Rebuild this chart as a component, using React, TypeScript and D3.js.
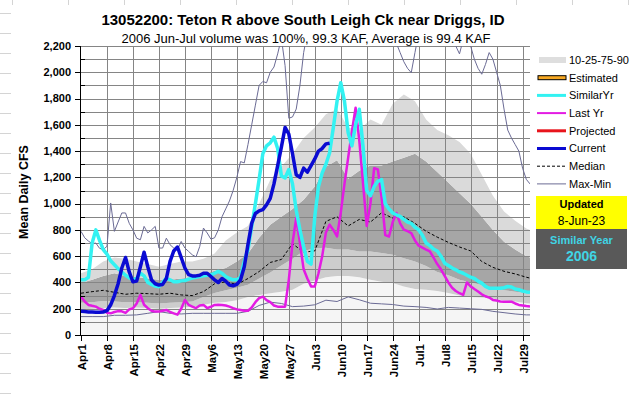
import React, { useEffect, useRef } from 'react';
import * as d3 from 'd3';

const title = '13052200: Teton R above South Leigh Ck near Driggs, ID';
const subtitle = '2006 Jun-Jul volume was 100%, 99.3 KAF, Average is 99.4 KAF';

// one label per week, starting Apr 1 (day 0)
const tickLabels = ['Apr1', 'Apr8', 'Apr15', 'Apr22', 'Apr29', 'May6', 'May13', 'May20', 'May27',
  'Jun3', 'Jun10', 'Jun17', 'Jun24', 'Jul1', 'Jul8', 'Jul15', 'Jul22', 'Jul29'];
const yTicks = [0, 200, 400, 600, 800, 1000, 1200, 1400, 1600, 1800, 2000, 2200];

// daily flows, index = days since Apr 1
const current = [180, 178, 176, 175, 174, 173, 175, 185, 230, 300, 390, 510, 590, 480, 405, 410, 520, 630, 520, 420,
  390, 380, 385, 430, 560, 640, 670, 590, 510, 460, 450, 450, 455, 470, 470, 445, 420, 400, 430, 410,
  380, 375, 385, 420, 520, 690, 850, 925, 945, 955, 990, 1040, 1150, 1290, 1430, 1580, 1530, 1380, 1220, 1200,
  1270, 1240, 1290, 1340, 1400, 1420, 1455, 1460];

const similarYr = [420, 420, 440, 700, 800, 720, 650, 615, 565, 535, 505, 480, 455, 435, 420, 430, 470, 450, 400, 385,
  372, 368, 400, 432, 420, 405, 405, 412, 415, 425, 433, 440, 445, 450, 455, 458, 470, 484, 470, 445,
  430, 420, 420, 440, 560, 650, 827, 1000, 1183, 1380, 1440, 1463, 1506, 1420, 1210, 1196, 1260, 1150, 950, 800,
  670, 560, 540, 900, 1130, 1234, 1300, 1387, 1580, 1780, 1921, 1780, 1540, 1440, 1600, 1718, 1437, 1100, 1060, 1130,
  1170, 1183, 1000, 960, 929, 915, 903, 880, 860, 850, 820, 800, 760, 700, 680, 655, 640, 600, 547, 530,
  510, 496, 480, 470, 455, 440, 430, 410, 395, 370, 356, 356, 356, 356, 360, 369, 365, 350, 345, 335,
  328, 325];

const lastYr = [292, 255, 229, 222, 216, 200, 190, 170, 165, 175, 182, 180, 168, 195, 204, 240, 305, 230, 204, 185,
  178, 178, 185, 191, 175, 165, 155, 200, 267, 230, 216, 205, 225, 229, 205, 215, 229, 230, 229, 225,
  216, 205, 195, 190, 185, 185, 210, 250, 280, 292, 265, 250, 225, 216, 216, 216, 420, 700, 890, 700,
  500, 430, 370, 370, 470, 600, 780, 840, 800, 750, 930, 1150, 1350, 1550, 1730, 1480, 1158, 830, 1000, 1270,
  1260, 1050, 760, 750, 860, 929, 850, 802, 790, 776, 720, 680, 665, 650, 636, 590, 540, 500, 450, 400,
  360, 335, 318, 305, 400, 370, 350, 331, 310, 295, 285, 267, 262, 255, 254, 254, 254, 240, 229, 225,
  220, 216];

const maxFlow = [789, 740, 715, 695, 700, 660, 650, 675, 1005, 789, 860, 929, 929, 850, 800, 737, 725, 827, 777, 800,
  827, 662, 662, 737, 687, 662, 649, 712, 662, 636, 610, 595, 674, 814, 777, 730, 740, 800, 900, 960,
  1020, 1100, 1200, 1320, 1310, 1450, 1600, 1750, 1900, 1930, 1920, 2000, 2040, 2140, 2260, 2050, 1650, 1660, 1720, 1900,
  2150, 2300, 2350, 2450, 2600, 2750, 2900, 3000, 2950, 2800, 2700, 2650, 2600, 2500, 2450, 2400, 2500, 2600, 2550, 2450,
  2400, 2350, 2300, 2280, 2250, 2220, 2150, 2080, 2030, 1997, 2150, 2300, 2400, 2500, 2450, 2400, 2350, 2380, 2320, 2280,
  2300, 2200, 2140, 2250, 2300, 2200, 2100, 2030, 1985, 2060, 2150, 2100, 2000, 1900, 1720, 1560, 1500, 1450, 1400, 1270,
  1185, 1150];

// percentile / median / min series, sampled every third day
const bandDays = [0, 3, 6, 9, 12, 15, 18, 21, 24, 27, 30, 33, 36, 39, 42, 45, 48, 51, 54, 57,
  60, 63, 66, 69, 72, 75, 78, 81, 84, 87, 90, 93, 96, 99, 102, 105, 108, 111, 114, 117, 120, 121];
const p90 = [470, 500, 560, 590, 580, 560, 540, 520, 540, 560, 560, 580, 620, 720, 780, 830, 1000, 1180, 1280, 1380,
  1500, 1580, 1680, 1720, 1580, 1560, 1640, 1600, 1760, 1830, 1780, 1640, 1560, 1520, 1470, 1380, 1220, 1060, 940, 870, 810, 800];
const p75 = [395, 420, 450, 470, 450, 440, 430, 420, 420, 430, 440, 460, 490, 510, 560, 620, 740, 840, 900, 960,
  1030, 1130, 1280, 1330, 1190, 1250, 1290, 1290, 1320, 1350, 1380, 1320, 1240, 1160, 1080, 1000, 900, 800, 710, 650, 600, 590];
const p25 = [245, 250, 258, 255, 250, 250, 245, 240, 245, 250, 255, 290, 320, 340, 360, 382, 430, 475, 530, 580,
  640, 660, 665, 650, 650, 636, 635, 625, 610, 585, 560, 525, 480, 455, 420, 400, 380, 360, 340, 330, 320, 318];
const p10 = [195, 200, 205, 210, 205, 210, 205, 200, 205, 210, 215, 230, 245, 252, 265, 290, 305, 318, 330, 345,
  390, 415, 440, 450, 450, 440, 420, 405, 395, 370, 350, 345, 335, 320, 300, 290, 285, 278, 262, 255, 242, 240];
const median = [318, 330, 340, 325, 310, 318, 315, 310, 318, 305, 300, 330, 390, 405, 385, 430, 483, 552, 575, 695,
  630, 640, 865, 900, 830, 880, 860, 930, 890, 900, 850, 790, 745, 705, 670, 640, 560, 515, 485, 465, 440, 433];
const minFlow = [140, 140, 140, 150, 150, 153, 165, 178, 165, 160, 165, 165, 165, 165, 165, 180, 225, 250, 240, 216,
  220, 230, 265, 255, 290, 268, 242, 237, 232, 220, 216, 210, 198, 210, 205, 200, 195, 180, 170, 160, 153, 153];

const legendItems = ['10-25-75-90', 'Estimated', 'SimilarYr', 'Last Yr', 'Projected', 'Current', 'Median', 'Max-Min'];

const FONT = '"Liberation Sans", Arial, sans-serif';

const App: React.FC = () => {
  const svgRef = useRef<SVGSVGElement | null>(null);

  useEffect(() => {
    if (!svgRef.current) return;
    const svg = d3.select(svgRef.current);
    svg.selectAll('*').remove();

    const left = 81, right = 530, top = 46, bottom = 335;
    const x = d3.scaleLinear().domain([0, 121]).range([left, right]);
    const y = d3.scaleLinear().domain([0, 2200]).range([bottom, top]);

    svg.append('rect').attr('width', 633).attr('height', 394).attr('fill', '#fff');

    // spreadsheet cells peeking out around the chart object
    d3.range(13, 394, 20).forEach((yy) => {
      svg.append('line').attr('x1', 0).attr('x2', 11).attr('y1', yy + 0.5).attr('y2', yy + 0.5)
        .attr('stroke', '#d4d4d4');
    });
    d3.range(12, 633, 56).forEach((xx) => {
      svg.append('line').attr('x1', xx + 0.5).attr('x2', xx + 0.5).attr('y1', 0).attr('y2', 5)
        .attr('stroke', '#d4d4d4');
    });

    svg.append('defs').append('clipPath').attr('id', 'plotClip')
      .append('rect').attr('x', left).attr('y', top).attr('width', right - left).attr('height', bottom - top);

    const plot = svg.append('g').attr('clip-path', 'url(#plotClip)');

    // percentile bands
    const band = (lo: number[] | null, hi: number[], fill: string) => {
      const a = d3.area<number>()
        .x((d) => x(d))
        .y0((_, i) => (lo ? y(lo[i]) : y(0)))
        .y1((_, i) => y(hi[i]));
      plot.append('path').datum(bandDays).attr('d', a).attr('fill', fill);
    };
    band(null, p10, '#f5f5f5');
    band(p10, p25, '#cdcdcd');
    band(p25, p75, '#a6a6a6');
    band(p75, p90, '#dadada');

    // grid
    d3.range(100, 2201, 100).forEach((v) => {
      plot.append('line').attr('x1', left).attr('x2', right)
        .attr('y1', Math.round(y(v)) + 0.5).attr('y2', Math.round(y(v)) + 0.5)
        .attr('stroke', '#858585').attr('stroke-width', 1);
    });
    tickLabels.forEach((_, i) => {
      if (i === 0) return;
      const xx = Math.round(x(i * 7)) + 0.5;
      plot.append('line').attr('x1', xx).attr('x2', xx).attr('y1', top).attr('y2', bottom)
        .attr('stroke', '#858585').attr('stroke-width', 1);
    });

    const sampled = (vals: number[]) =>
      d3.line<number>().x((d) => x(d)).y((_, i) => y(vals[i]))(bandDays);
    const daily = d3.line<number>().x((_, i) => x(i)).y((d) => y(d));

    plot.append('path').attr('d', sampled(minFlow)).attr('fill', 'none')
      .attr('stroke', '#6b6b95').attr('stroke-width', 1);
    plot.append('path').datum(maxFlow).attr('d', daily).attr('fill', 'none')
      .attr('stroke', '#6b6b95').attr('stroke-width', 1);
    plot.append('path').attr('d', sampled(median)).attr('fill', 'none')
      .attr('stroke', '#000').attr('stroke-width', 1).attr('stroke-dasharray', '3,2');
    plot.append('path').datum(lastYr).attr('d', daily).attr('fill', 'none')
      .attr('stroke', '#e31be3').attr('stroke-width', 2.5).attr('stroke-linejoin', 'round');
    plot.append('path').datum(similarYr).attr('d', daily).attr('fill', 'none')
      .attr('stroke', '#33f2f2').attr('stroke-width', 3.5).attr('stroke-linejoin', 'round');
    plot.append('path').datum(current).attr('d', daily).attr('fill', 'none')
      .attr('stroke', '#0a0ad2').attr('stroke-width', 3.5).attr('stroke-linejoin', 'round');

    // axes
    svg.append('line').attr('x1', left - 0.5).attr('x2', left - 0.5).attr('y1', top).attr('y2', bottom + 1)
      .attr('stroke', '#000');
    svg.append('line').attr('x1', left - 1).attr('x2', right).attr('y1', bottom + 0.5).attr('y2', bottom + 0.5)
      .attr('stroke', '#000');
    d3.range(0, 2201, 100).forEach((v) => {
      const yy = Math.round(y(v)) + 0.5;
      const major = v % 200 === 0;
      svg.append('line').attr('x1', major ? left - 6 : left).attr('x2', major ? left : left + 4)
        .attr('y1', yy).attr('y2', yy).attr('stroke', '#000');
    });
    yTicks.forEach((v) => {
      svg.append('text').attr('x', 71).attr('y', y(v)).attr('dy', '0.35em')
        .attr('text-anchor', 'end').attr('font-family', FONT).attr('font-size', 11)
        .attr('font-weight', 'bold').text(d3.format(',')(v));
    });
    tickLabels.forEach((t, i) => {
      const xx = Math.round(x(i * 7)) + 0.5;
      svg.append('line').attr('x1', xx).attr('x2', xx).attr('y1', bottom).attr('y2', bottom + 6)
        .attr('stroke', '#000');
      svg.append('text').attr('transform', `translate(${x(i * 7) + 1},${bottom + 9}) rotate(-90)`)
        .attr('dy', '0.35em').attr('text-anchor', 'end').attr('font-family', FONT)
        .attr('font-size', 11.5).attr('font-weight', 'bold').text(t);
    });

    svg.append('text').attr('transform', 'translate(28,192) rotate(-90)').attr('text-anchor', 'middle')
      .attr('font-family', FONT).attr('font-size', 12.5).attr('font-weight', 'bold').text('Mean Daily CFS');

    // titles
    svg.append('text').attr('x', 303).attr('y', 25).attr('text-anchor', 'middle').attr('font-family', FONT)
      .attr('font-size', 15).attr('font-weight', 'bold').text(title);
    svg.append('text').attr('x', 306).attr('y', 43).attr('text-anchor', 'middle').attr('font-family', FONT)
      .attr('font-size', 13).text(subtitle);

    // legend
    const lx0 = 538, lx1 = 566;
    legendItems.forEach((name, i) => {
      const ly = 60 + i * 17.7;
      const g = svg.append('g');
      if (name === '10-25-75-90') {
        g.append('rect').attr('x', lx0 + 1).attr('y', ly - 3).attr('width', lx1 - lx0 - 1).attr('height', 6)
          .attr('fill', '#dedede');
      } else if (name === 'Estimated') {
        g.append('rect').attr('x', lx0).attr('y', ly - 2).attr('width', lx1 - lx0).attr('height', 4)
          .attr('fill', '#f7a823').attr('stroke', '#000').attr('stroke-width', 1);
      } else {
        const styles: Record<string, [string, number, string?]> = {
          SimilarYr: ['#33f2f2', 3],
          'Last Yr': ['#e31be3', 2],
          Projected: ['#e8141c', 3],
          Current: ['#0a0ad2', 3],
          Median: ['#000', 1, '3,2'],
          'Max-Min': ['#6b6b95', 1],
        };
        const [c, w, dash] = styles[name];
        g.append('line').attr('x1', lx0 - 1).attr('x2', lx1).attr('y1', ly).attr('y2', ly)
          .attr('stroke', c).attr('stroke-width', w).attr('stroke-dasharray', dash || null);
      }
      g.append('text').attr('x', 569).attr('y', ly).attr('dy', '0.35em').attr('font-family', FONT)
        .attr('font-size', 11).text(name);
    });

    // info boxes
    svg.append('rect').attr('x', 536).attr('y', 196).attr('width', 91).attr('height', 33).attr('fill', '#ffff00');
    svg.append('text').attr('x', 581.5).attr('y', 208).attr('text-anchor', 'middle').attr('font-family', FONT)
      .attr('font-size', 11).attr('font-weight', 'bold').text('Updated');
    svg.append('text').attr('x', 581.5).attr('y', 225).attr('text-anchor', 'middle').attr('font-family', FONT)
      .attr('font-size', 12).text('8-Jun-23');
    svg.append('rect').attr('x', 536).attr('y', 229).attr('width', 91).attr('height', 40).attr('fill', '#595959');
    svg.append('text').attr('x', 581.5).attr('y', 244).attr('text-anchor', 'middle').attr('font-family', FONT)
      .attr('font-size', 11).attr('font-weight', 'bold').attr('fill', '#40d4e4').text('Similar Year');
    svg.append('text').attr('x', 581.5).attr('y', 261).attr('text-anchor', 'middle').attr('font-family', FONT)
      .attr('font-size', 14).attr('font-weight', 'bold').attr('fill', '#40d4e4').text('2006');
  }, []);

  return (
    <svg ref={svgRef} width={633} height={394}
      style={{ position: 'absolute', left: 0, top: 0, display: 'block' }} />
  );
};

export default App;
